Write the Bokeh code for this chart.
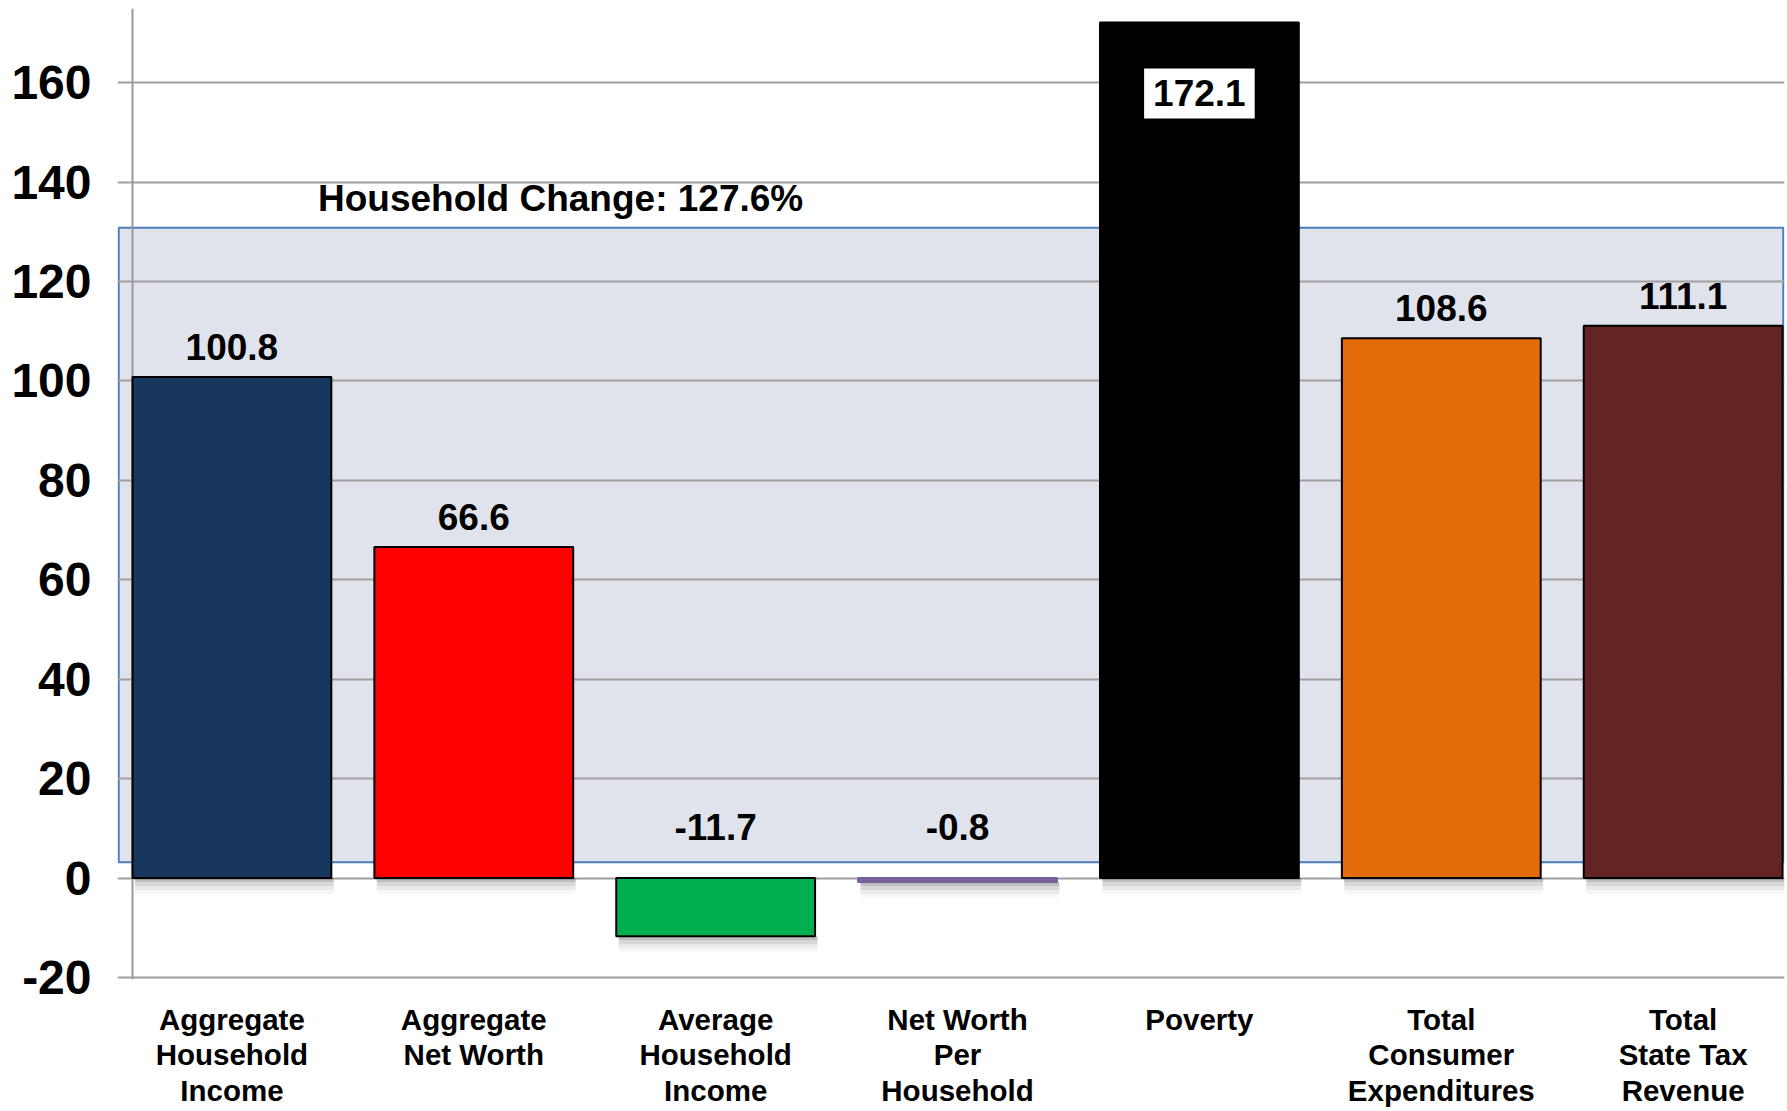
from bokeh.plotting import figure
from bokeh.models import Range1d, FixedTicker, ColumnDataSource, Span
from bokeh.core.properties import value
from bokeh.embed import file_html
from bokeh.resources import INLINE

# ---------------- data ----------------
categories = [
    "Aggregate\nHousehold\nIncome",
    "Aggregate\nNet Worth",
    "Average\nHousehold\nIncome",
    "Net Worth\nPer\nHousehold",
    "Poverty",
    "Total\nConsumer\nExpenditures",
    "Total\nState Tax\nRevenue",
]
values = [100.8, 66.6, -11.7, -0.8, 172.1, 108.6, 111.1]
value_labels = ["100.8", "66.6", "-11.7", "-0.8", "172.1", "108.6", "111.1"]
label_inside = [False, False, False, False, True, False, False]
bar_colors = ["#17375E", "#FF0000", "#00B050", "#7A5F9A", "#000000", "#E46C0A", "#632523"]
bar_outlines = ["#000000", "#000000", "#000000", "#7A5F9A", "#000000", "#000000", "#000000"]
y_ticks = [-20, 0, 20, 40, 60, 80, 100, 120, 140, 160]
y_tick_labels = ["-20", "0", "20", "40", "60", "80", "100", "120", "140", "160"]
household_change = 127.6

# ---------------- style constants ----------------
FONT_NAME = "Liberation Sans"
FONT = value(FONT_NAME)
BAR_W = 0.822
X_START, X_END = -0.473, 6.419
Y_START, Y_END = -20.4, 174.9
BOX_BASE = 3.2
BOX_LEFT, BOX_RIGHT = -0.468, 6.414
GRID = "#A0A0A0"

xs = list(range(len(categories)))

p = figure(
    width=1786, height=1110,
    x_range=Range1d(X_START, X_END), y_range=Range1d(Y_START, Y_END),
    output_backend="svg", toolbar_location=None,
    min_border_left=117, min_border_right=2, min_border_top=8, min_border_bottom=126,
)
p.outline_line_color = None
p.background_fill_color = "white"
p.border_fill_color = "white"

# grid
p.xgrid.visible = False
p.ygrid.ticker = FixedTicker(ticks=y_ticks)
p.ygrid.grid_line_color = GRID
p.ygrid.grid_line_width = 2

# y axis
p.yaxis.ticker = FixedTicker(ticks=y_ticks)
p.yaxis.major_label_overrides = {t: s for t, s in zip(y_ticks, y_tick_labels)}
p.yaxis.axis_line_color = None
p.yaxis.major_tick_line_color = None
p.yaxis.minor_tick_line_color = None
p.yaxis.major_label_text_font = FONT_NAME
p.yaxis.major_label_text_font_style = "bold"
p.yaxis.major_label_text_font_size = "48px"
p.yaxis.major_label_text_color = "#000000"
p.yaxis.major_label_standoff = 20

# x axis
p.xaxis.ticker = FixedTicker(ticks=xs)
p.xaxis.major_label_overrides = {i: c for i, c in zip(xs, categories)}
p.xaxis.axis_line_color = None
p.xaxis.major_tick_line_color = None
p.xaxis.minor_tick_line_color = None
p.xaxis.major_label_text_font = FONT_NAME
p.xaxis.major_label_text_font_style = "bold"
p.xaxis.major_label_text_font_size = "29.5px"
p.xaxis.major_label_text_color = "#000000"
p.xaxis.major_label_text_line_height = 1.09
p.xaxis.major_label_standoff = 17

# highlight box (behind the grid lines)
box_top = BOX_BASE + household_change
p.quad(left=[BOX_LEFT], right=[BOX_RIGHT], bottom=[BOX_BASE], top=[box_top],
       fill_color="#E0E3EB", line_color="#4A7EBB", line_width=2, level="image")

# vertical axis line
p.add_layout(Span(location=-BAR_W / 2, dimension="height", line_color="#999999",
                  line_width=2, level="underlay"))

# bar shadows
shadow_base = [min(v, 0) for v in values]
for k, a in enumerate([0.11, 0.08, 0.05, 0.03]):
    d = 0.8 * (k + 1)
    p.vbar(x=[x + 0.01 for x in xs], width=BAR_W, top=shadow_base,
           bottom=[b - d for b in shadow_base], fill_color="#000000", fill_alpha=a,
           line_color=None)

# bars
src = ColumnDataSource(dict(x=xs, top=values, color=bar_colors, outline=bar_outlines))
p.vbar(x="x", width=BAR_W, bottom=0, top="top", source=src,
       fill_color="color", line_color="outline", line_width=2)

# value labels above bars
out_idx = [i for i in xs if not label_inside[i]]
lab = ColumnDataSource(dict(
    x=[xs[i] for i in out_idx],
    y=[max(values[i], 0) for i in out_idx],
    text=[value_labels[i] for i in out_idx],
    dy=[-30 if values[i] >= 0 else -51 for i in out_idx],
))
p.text(x="x", y="y", text="text", y_offset="dy", source=lab,
       text_font=FONT, text_font_style="bold", text_font_size="37px",
       text_align="center", text_baseline="alphabetic", text_color="#000000")

# value label inside bar (white box)
in_idx = [i for i in xs if label_inside[i]]
p.text(x=[xs[i] for i in in_idx], y=[values[i] for i in in_idx],
       text=[value_labels[i] for i in in_idx], y_offset=71,
       text_font=FONT, text_font_style="bold", text_font_size="37px",
       text_align="center", text_baseline="middle", text_color="#000000",
       background_fill_color="#FFFFFF",
       padding=dict(left=9, right=9, top=12, bottom=12))

# household change title
p.text(x=[0.356], y=[box_top], text=[f"Household Change: {household_change}%"],
       y_offset=-29, text_font=FONT, text_font_style="bold", text_font_size="37px",
       text_align="left", text_baseline="alphabetic", text_color="#000000")

open("out.html", "w").write(file_html(p, INLINE))
